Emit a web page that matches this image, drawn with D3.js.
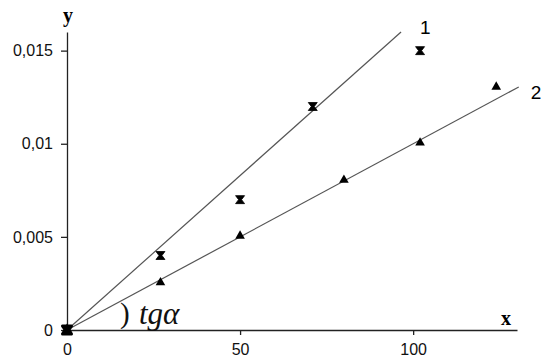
<!DOCTYPE html>
<html>
<head>
<meta charset="utf-8">
<script src="https://cdn.jsdelivr.net/npm/d3@7"></script>
<style>
  body { margin: 0; background: #fff; }
  svg { display: block; }
</style>
</head>
<body>
<div id="chart"></div>
<script>
// data
const series1X = [0, 27, 50, 71, 102];
const series1Y = [0, 0.004, 0.007, 0.012, 0.015];
const series2X = [0, 27, 50, 80, 102, 124];
const series2Y = [0, 0.0025, 0.005, 0.008, 0.01, 0.013];

// fitted lines: start and end points
const fit1X = [0, 96.5];
const fit1Y = [0, 0.016];
const fit2X = [0, 130.5];
const fit2Y = [0, 0.01305];

const xTicks = [0, 50, 100];
const yTicks = [0, 0.005, 0.01, 0.015];
const lineLabels = ["1", "2"];

const width = 541;
const height = 356;
const margin = {top: 32, right: 24, bottom: 26, left: 67};

const svg = d3.select("#chart")
  .append("svg")
    .attr("width", width)
    .attr("height", height);

const xScale = d3.scaleLinear()
  .domain([0, 130])
  .range([margin.left, width - margin.right]);

const yScale = d3.scaleLinear()
  .domain([0, 0.016])
  .range([height - margin.bottom, margin.top]);

// axes
const bottomAxis = d3.axisBottom(xScale)
  .tickValues(xTicks)
  .tickSize(5)
  .tickSizeOuter(0)
  .tickPadding(9);

const leftAxis = d3.axisLeft(yScale)
  .tickValues(yTicks)
  .tickSize(6)
  .tickSizeOuter(0)
  .tickPadding(8)
  .tickFormat(d => String(d).replace(".", ","));

const gx = svg.append("g")
  .attr("transform", `translate(0, ${yScale(0)})`)
  .call(bottomAxis);

const gy = svg.append("g")
  .attr("transform", `translate(${xScale(0)}, 0)`)
  .call(leftAxis);

[gx, gy].forEach(g => {
  g.selectAll("path, line").attr("stroke", "#222").attr("stroke-width", 1.3);
  g.selectAll("text")
    .attr("fill", "#111")
    .style("font-family", "'Liberation Sans', Arial, sans-serif")
    .style("font-size", "16px");
});

// axis names
svg.append("text")
  .text("y")
  .attr("x", xScale(0) + 1)
  .attr("y", 22)
  .attr("text-anchor", "middle")
  .style("font-family", "'Liberation Serif', serif")
  .style("font-weight", "bold")
  .style("font-size", "20px");

svg.append("text")
  .text("x")
  .attr("x", 506)
  .attr("y", 325)
  .attr("text-anchor", "middle")
  .style("font-family", "'Liberation Serif', serif")
  .style("font-weight", "bold")
  .style("font-size", "20px");

// fitted lines
const line = d3.line()
  .x(d => xScale(d[0]))
  .y(d => yScale(d[1]));

const fits = [d3.zip(fit1X, fit1Y), d3.zip(fit2X, fit2Y)];
svg.selectAll(".fit")
  .data(fits)
  .join("path")
    .attr("class", "fit")
    .attr("d", line)
    .attr("fill", "none")
    .attr("stroke", "#555")
    .attr("stroke-width", 1.2);

// line labels next to the ends
svg.append("text")
  .text(lineLabels[0])
  .attr("x", xScale(fit1X[1]) + 19)
  .attr("y", yScale(fit1Y[1]) + 2)
  .style("font-family", "'Liberation Sans', Arial, sans-serif")
  .style("font-size", "19px");

svg.append("text")
  .text(lineLabels[1])
  .attr("x", xScale(fit2X[1]) + 12)
  .attr("y", yScale(fit2Y[1]) + 12)
  .style("font-family", "'Liberation Sans', Arial, sans-serif")
  .style("font-size", "19px");

// angle mark and tg alpha
svg.append("text")
  .text(")")
  .attr("x", 120)
  .attr("y", 323)
  .style("font-family", "'Liberation Serif', serif")
  .style("font-size", "29px")
  .attr("fill", "#111");

svg.append("text")
  .text("tgα")
  .attr("x", 139)
  .attr("y", 324)
  .style("font-family", "'Liberation Serif', serif")
  .style("font-style", "italic")
  .style("font-size", "31px")
  .attr("fill", "#111");

// markers
const hourglass = "M-4.5,-4 L4.5,-4 L1.5,0 L4.5,4 L-4.5,4 L-1.5,0 Z";
svg.selectAll(".m1")
  .data(d3.zip(series1X, series1Y))
  .join("path")
    .attr("class", "m1")
    .attr("d", hourglass)
    .attr("transform", d => `translate(${xScale(d[0])}, ${yScale(d[1])})`)
    .attr("fill", "#000")
    .attr("stroke", "#000")
    .attr("stroke-width", d => d[0] === 0 ? 3 : 0.8)
    .attr("stroke-linejoin", "round");

const triangle = d3.symbol().type(d3.symbolTriangle).size(40);
svg.selectAll(".m2")
  .data(d3.zip(series2X, series2Y))
  .join("path")
    .attr("class", "m2")
    .attr("d", triangle)
    .attr("transform", d => `translate(${xScale(d[0])}, ${yScale(d[1]) - 1})`)
    .attr("fill", "#000");
</script>
</body>
</html>
